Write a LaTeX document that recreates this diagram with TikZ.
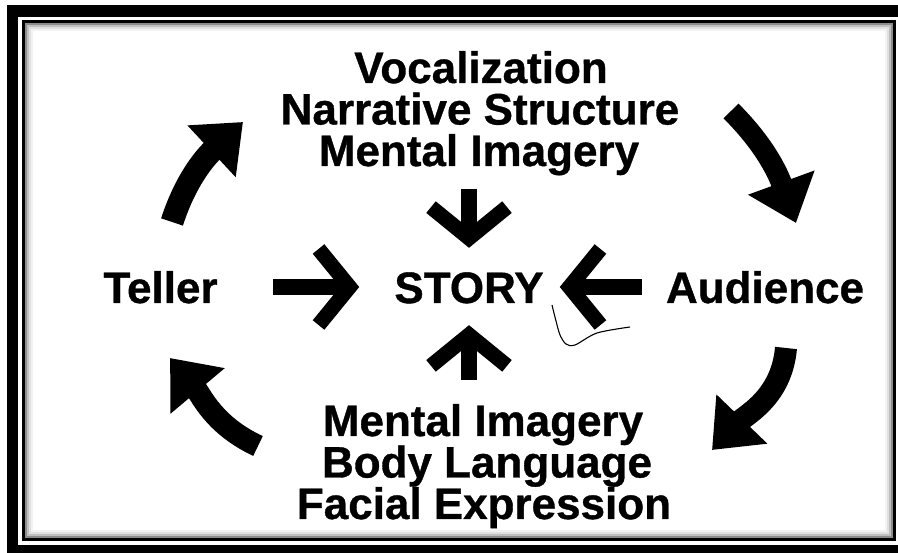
\documentclass[tikz,border=0pt]{standalone}
\usepackage{fontspec}
\setmainfont{Liberation Sans}[BoldFeatures={FakeBold=0.8}]
\usetikzlibrary{arrows.meta,calc}
\begin{document}
\begin{tikzpicture}[x=1pt,y=1pt,
  lbl/.style={font=\bfseries\fontsize{44}{44}\selectfont, inner sep=0pt, anchor=base},
  mid/.style={lbl, text height=32pt, text depth=0pt},
  sa/.style={line width=16pt, -{Straight Barb[sharp,length=31pt,width=76pt,line width=15pt]}},
  ca/.style={line width=22pt, -{Triangle[length=43pt,width=68pt]}},
]
\useasboundingbox (0,0) rectangle (898,553);
\fill[white] (0,0) rectangle (898,553);
% frame
\draw[line width=11.5pt] (12.5,2) rectangle (910,542);
\draw[line width=3pt] (23.5,13) rectangle (894.5,531.5);
\foreach \d/\c in {2.5/45,4.5/25,6.5/12,8.5/5}
  \draw[line width=2pt, black!\c] (23.5+\d,13+\d) rectangle (894.5-\d,531.5-\d);
% texts
\node[lbl] (top1) at (481,470) {Vocalization};
\node[lbl] (top2) at (480,428.5) {Narrative Structure};
\node[lbl] (top3) at (479,387) {Mental Imagery};
\node[mid] (teller) at (160.5,250) {Teller};
\node[mid] (story) at (469,250) {STORY};
\node[mid] (audience) at (765,250) {Audience};
\node[lbl] (bot1) at (483,117) {Mental Imagery};
\node[lbl] (bot2) at (487,75.5) {Body Language};
\node[lbl] (bot3) at (484,34) {Facial Expression};
% straight arrows
\draw[sa, shorten <=55pt, shorten >=35pt] (teller.east) -- (story.west);
\draw[sa, shorten <=24pt, shorten >=16pt] (audience.west) -- (story.east);
\draw[sa, shorten <=13pt, shorten >=23pt] (top3.south -| story.north) -- (story.north);
\draw[sa, shorten <=24pt, shorten >=22pt] (bot1.north -| story.south) -- (story.south);
% curved arrows
\coordinate (c1a) at (172,331); \coordinate (c1b) at (243,431);
\coordinate (c2a) at (731,442); \coordinate (c2b) at (796,330);
\coordinate (c3a) at (786,205); \coordinate (c3b) at (712,103);
\coordinate (c4a) at (258,107); \coordinate (c4b) at (170,195);
\draw[ca, line width=23pt] (c1a) to[out=72,in=223] (c1b);
\draw[ca, line width=21pt] (c2a) to[out=-45,in=110] (c2b);
\draw[ca] (c3a) to[out=265,in=46] (c3b);
\draw[ca] (c4a) to[out=155,in=-50] (c4b);
% hand-drawn squiggle
\coordinate (sq) at (552,248);
\draw[line width=1.1pt] plot[smooth] coordinates {(sq) (556,232) (560,218) (566,209) (575,208) (597,220) (630,226)};
\end{tikzpicture}
\end{document}
